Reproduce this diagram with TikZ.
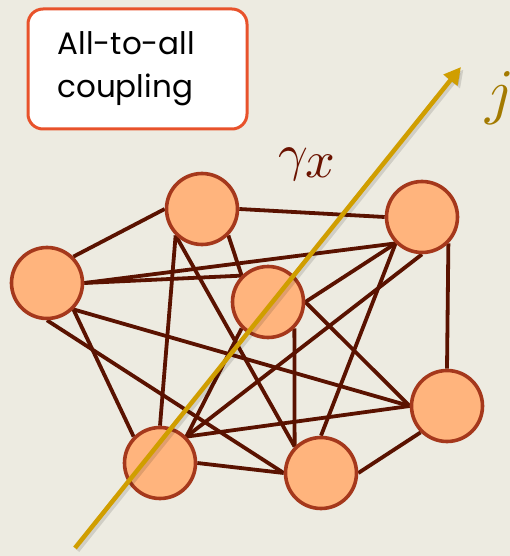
\documentclass[tikz,border=0pt]{standalone}
\usepackage{fontspec}
\usepackage{amsmath}
\newfontfamily\notefont{Poppins}
\usetikzlibrary{arrows.meta,backgrounds}
\definecolor{paper}{HTML}{EDEBE1}
\definecolor{oscfill}{HTML}{FFB47D}
\definecolor{oscdraw}{HTML}{A5381C}
\definecolor{linkcol}{HTML}{5A1200}
\definecolor{currcol}{HTML}{D09E00}
\definecolor{jcol}{HTML}{A37A00}
\definecolor{gamcol}{HTML}{6A1200}
\definecolor{notecol}{HTML}{E8522B}
\tikzset{
  % oscillators and their links
  oscnode/.style={
    circle, fill=oscfill, draw=oscdraw,
    line width=3.6pt, minimum size=71pt, inner sep=0pt
  },
  linkline/.style={
    draw=linkcol, line width=3.8pt
  },
  % current direction
  currentarrow/.style={
    -{Triangle[length=17pt,width=17pt]}, line width=4.5pt, draw=currcol
  },
  notebox/.style={
    rectangle, rounded corners=15pt,
    fill=white, draw=notecol, line width=3pt,
    minimum width=219pt, minimum height=120pt,
    text width=160pt, align=left,
    font=\notefont\fontsize{31}{43}\selectfont
  }
}
\begin{document}
\begin{tikzpicture}[x=1pt,y=-1pt]
  \useasboundingbox (0,0) rectangle (510,556);

  \node[notebox] (note) at (137.5,69) {All-to-all\\coupling};

  \node[oscnode] (a) at (47,283) {};
  \node[oscnode] (b) at (202,209) {};
  \node[oscnode] (c) at (422,217) {};
  \node[oscnode] (d) at (268,302) {};
  \node[oscnode] (e) at (447,406) {};
  \node[oscnode] (f) at (160,463) {};
  \node[oscnode] (g) at (321,473) {};

  \begin{scope}[on background layer]
    \fill[paper] (0,0) rectangle (510,556);
    \foreach \u/\v in {a.north east/b.west, a.east/c.south west, a.east/d.north west,
                       a.south east/e.west, a.south east/f.north west, a.south/g.west,
                       b.east/c.west, b.south east/d.north west,
                       b.south west/f.north, b.south west/g.north west,
                       c.south west/d.east, c.south east/e.north,
                       c.south/f.north east, c.south west/g.north,
                       d.east/e.west, d.south west/f.north east, d.south east/g.north west,
                       e.west/f.north east, e.south west/g.east, f.east/g.west}
      \draw[linkline] (\u) -- (\v);
  \end{scope}

  % current j across the lattice
  \coordinate (jstart) at (75,548);
  \coordinate (jend) at (461,67);
  \draw[currentarrow, draw=black, opacity=0.12, fill opacity=0.12] ([shift={(2.5,2.5)}]jstart) -- ([shift={(2.5,2.5)}]jend);
  \draw[currentarrow] (jstart) -- (jend);

  \node[text=gamcol, scale=5.2] (gam) at (308,164) {$\gamma_{\textstyle x}$};
  \node[text=jcol, scale=6.2] (jlab) at (500,98) {$j$};
\end{tikzpicture}
\end{document}
